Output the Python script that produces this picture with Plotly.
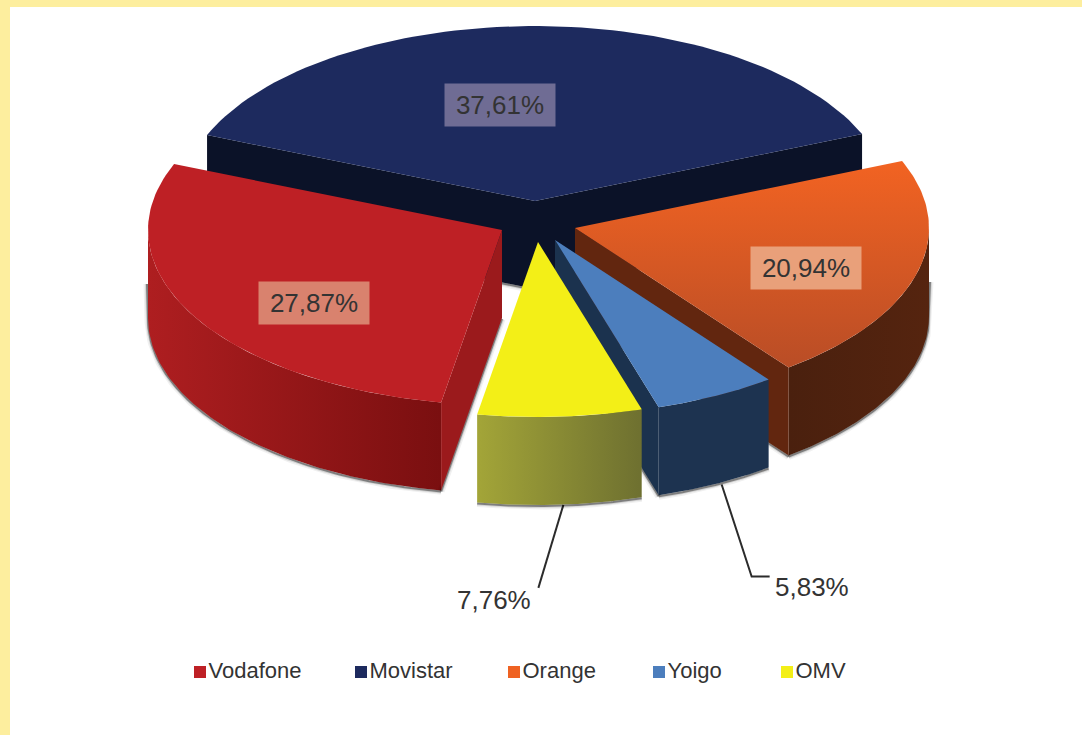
import numpy as np
import plotly.graph_objects as go

# data
operators = ["Vodafone", "Movistar", "Orange", "Yoigo", "OMV"]
shares = [27.87, 37.61, 20.94, 5.83, 7.76]

# look of each slice
top_colors = ["#BE2025", "#1D2A5E", "#B94D26", "#4C7EBD", "#F3EF17"]
top_colors_low = ["#BE2025", "#1D2A5E", "#F26322", "#4C7EBD", "#F3EF17"]
legend_colors = ["#BE2025", "#1D2A5E", "#EF6222", "#4C7EBD", "#F3EF17"]
wall_left = ["#AE1E20", "#0B1228", "#4A200E", "#1D3350", "#A3A538"]
wall_right = ["#7A0F10", "#0B1228", "#55240F", "#1D3350", "#6E7030"]
cut_colors = ["#9B1A1C", "#0B1228", "#62260F", "#1B324E", "#6E7030"]
apex_x = [502, 535, 575, 555, 538]
apex_y = [230, 201, 228, 240, 242]
legend_x = [200, 361, 514, 659, 787]

# the picture's perspective squeezes the slices near the front a little
start_nudge = [-1.9, 0, 0, 0, -0.9]
end_nudge = [0, 0, 0, -0.9, -1.9]

RX, RY, DEPTH = 354, 175, 88
FIRST_ANGLE = 191.8  # where Vodafone starts, clockwise from the top
DRAW_ORDER = [1, 2, 0, 3, 4]

FONT = "Liberation Sans"
TEXT = "#333333"

fig = go.Figure()


def poly(xs, ys, color, low=None, kind="horizontal"):
	fill = dict(fill="toself", fillcolor=color)
	if low is not None:
		fill = dict(fill="toself", fillgradient=dict(type=kind, colorscale=[[0, color], [1, low]]))
	fig.add_trace(go.Scatter(x=xs, y=ys, mode="lines", line=dict(width=0), hoverinfo="skip", **fill))


def shadow(xs, ys):
	for width, alpha in [(7, 0.06), (4, 0.12), (2, 0.4)]:
		fig.add_trace(go.Scatter(x=xs, y=ys, mode="lines", hoverinfo="skip",
			line=dict(color=f"rgba(0,0,0,{alpha})", width=width)))


def arc(i, t0, t1, drop=0):
	t = np.radians(np.linspace(t0, t1, 80))
	return apex_x[i] + RX * np.sin(t), apex_y[i] - RY * np.cos(t) + drop


def pct(v):
	return f"{v:.2f}%".replace(".", ",")


# angular span of every slice
ends = FIRST_ANGLE + np.cumsum(shares) * 360 / sum(shares)
starts = np.concatenate([[FIRST_ANGLE], ends[:-1]])

# leader lines for the two small slices, drawn first so the slices hide their ends
for i, dx, bend in [(3, 8, [(30, 92), (48, 92)]), (4, 12, [(-25, 83)])]:
	mid = np.radians((starts[i] + ends[i]) / 2)
	x0 = apex_x[i] + RX * np.sin(mid) + dx
	y0 = apex_y[i] - RY * np.cos(mid) + DEPTH
	fig.add_trace(go.Scatter(
		x=[x0] + [x0 + b[0] for b in bend],
		y=[y0] + [y0 + b[1] for b in bend],
		mode="lines", line=dict(color="#2b2b2b", width=2), hoverinfo="skip"))

for i in DRAW_ORDER:
	# angles brought to -90..630 so 90..270 is the visible outer wall
	t0 = starts[i] % 360
	t1 = t0 + (ends[i] - starts[i]) + end_nudge[i]
	t0 = t0 + start_nudge[i]
	if t0 > 270:
		t0, t1 = t0 - 360, t1 - 360
	ax, ay = apex_x[i], apex_y[i]

	# outer wall
	w0, w1 = max(t0, 90), min(t1, 270)
	if w1 > w0:
		xa, ya = arc(i, w0, w1)
		xb, yb = arc(i, w0, w1, DEPTH)
		# soft shadow under the wall, running a bit up the sides where the wall turns away
		sx, sy = xb, yb + 1
		if w0 == 90:
			sx, sy = np.concatenate([sx[:1] + 1, sx]), np.concatenate([sy[:1] - 35, sy])
		if w1 == 270:
			sx, sy = np.concatenate([sx, sx[-1:] - 1]), np.concatenate([sy, sy[-1:] - 35])
		shadow(sx, sy)
		poly(np.concatenate([xa, xb[::-1]]), np.concatenate([ya, yb[::-1]]), wall_left[i], wall_right[i])

	# cut faces turned towards the viewer
	for t, visible in [(t0, np.sin(np.radians(t0)) < 0), (t1, np.sin(np.radians(t1)) > 0)]:
		if visible:
			ex, ey = arc(i, t, t)
			shadow([ex[0], ax], [ey[0] + DEPTH + 1, ay + DEPTH + 1])
			poly([ax, ex[0], ex[0], ax], [ay, ey[0], ey[0] + DEPTH, ay + DEPTH], cut_colors[i])

	# top surface
	xt, yt = arc(i, t0, t1)
	poly(np.concatenate([[ax], xt]), np.concatenate([[ay], yt]), top_colors[i],
		top_colors_low[i] if top_colors[i] != top_colors_low[i] else None, "vertical")

# legend row, as markers with their names
for name, color, lx in zip(operators, legend_colors, legend_x):
	fig.add_trace(go.Scatter(
		x=[lx], y=[672], mode="markers+text", text=[name], textposition="middle right",
		marker=dict(symbol="square", size=12, color=color),
		textfont=dict(family=FONT, size=22, color=TEXT), hoverinfo="skip"))

# value labels
inside = {1: (499.5, 105, "#6F6C94"), 0: (314, 303, "#D9826E"), 2: (806, 268, "#E9A07A")}
for i, (lx, ly, box) in inside.items():
	fig.add_annotation(x=lx, y=ly, text=pct(shares[i]), showarrow=False, width=108, height=40,
		bgcolor=box, font=dict(family=FONT, size=26, color=TEXT))
fig.add_annotation(x=494, y=600, text=pct(shares[4]), showarrow=False,
	font=dict(family=FONT, size=26, color=TEXT))
fig.add_annotation(x=812, y=587, text=pct(shares[3]), showarrow=False,
	font=dict(family=FONT, size=26, color=TEXT))

fig.update_xaxes(visible=False, range=[10, 1082], fixedrange=True)
fig.update_yaxes(visible=False, range=[735, 7], fixedrange=True)
fig.update_layout(
	width=1082, height=735, showlegend=False,
	margin=dict(l=10, r=0, t=7, b=0, pad=0),
	paper_bgcolor="#FDEE9E", plot_bgcolor="white")

fig.write_html("out.html", config=dict(displayModeBar=False),
	post_script="document.body.style.margin='0';document.body.style.overflow='hidden';")
